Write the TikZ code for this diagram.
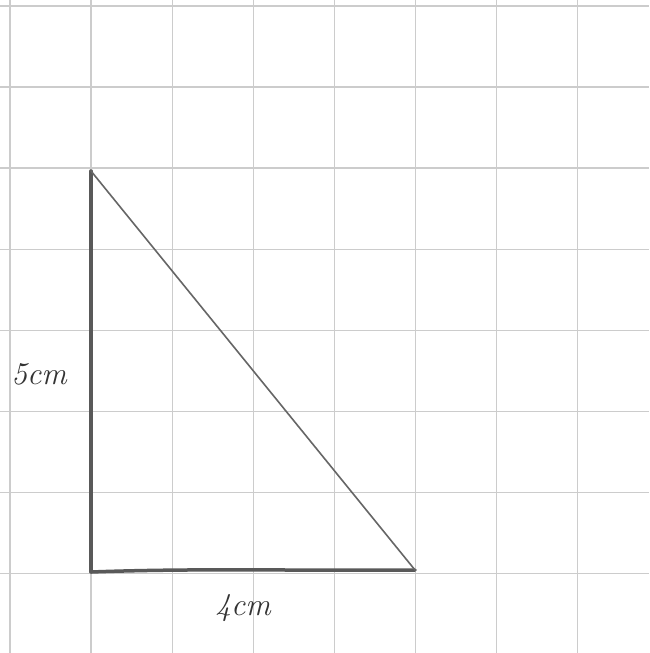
\documentclass[tikz,border=0pt]{standalone}
\begin{document}
\begin{tikzpicture}[x=0.03cm,y=-0.03cm,
  gridline/.style={draw=black!20, line width=1.4*0.03cm},
  side/.style={draw=black!65, line width=3.5*0.03cm, line cap=round},
  hyp/.style={draw=black!60, line width=1.6*0.03cm, line cap=round},
  lbl/.style={font=\itshape\fontsize{27}{29}\selectfont, text=black!80, inner sep=0pt}]
\useasboundingbox (0,0) rectangle (649,653);
\fill[white] (0,0) rectangle (649,653);
\foreach \i in {0,...,7} {
  \draw[gridline] ({10+81.1*\i},0) -- ({10+81.1*\i},653);
  \draw[gridline] (0,{6+81.1*\i}) -- (649,{6+81.1*\i});
}
\coordinate (T) at (91,171);
\coordinate (B) at (91,572);
\coordinate (R) at (415,570);
\draw[side] (T) -- (B);
\draw[side] (B) .. controls (200,568) and (300,571) .. (R);
\draw[hyp] (T) -- (R);
\node[lbl] (five) at (39,374) {5cm};
\node[lbl] (four) at (243,608) {4cm};
\end{tikzpicture}
\end{document}
